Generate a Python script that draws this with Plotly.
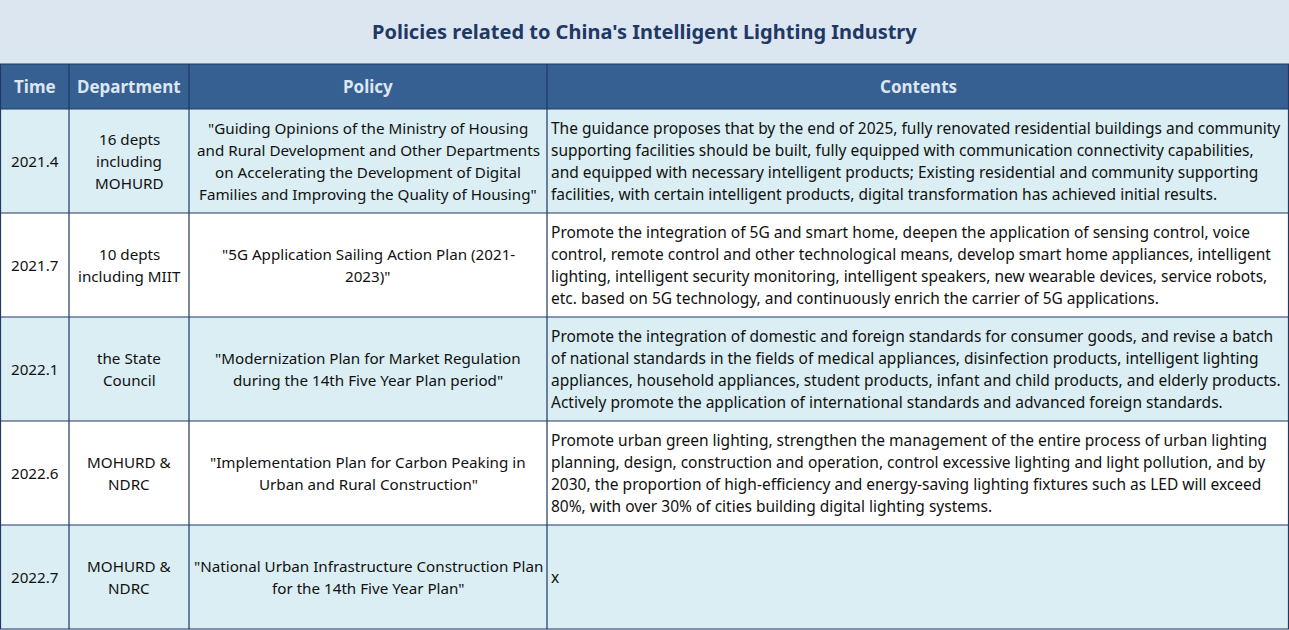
import plotly.graph_objects as go

title = "Policies related to China's Intelligent Lighting Industry"
headers = ["Time", "Department", "Policy", "Contents"]

times = ["2021.4", "2021.7", "2022.1", "2022.6", "2022.7"]
departments = [
    "16 depts<br>including<br>MOHURD",
    "10 depts<br>including MIIT",
    "the State<br>Council",
    "MOHURD &<br>NDRC",
    "MOHURD &<br>NDRC",
]
policies = [
    "\"Guiding Opinions of the Ministry of Housing<br>and Rural Development and Other Departments<br>on Accelerating the Development of Digital<br>Families and Improving the Quality of Housing\"",
    "\"5G Application Sailing Action Plan (2021-<br>2023)\"",
    "\"Modernization Plan for Market Regulation<br>during the 14th Five Year Plan period\"",
    "\"Implementation Plan for Carbon Peaking in<br>Urban and Rural Construction\"",
    "\"National Urban Infrastructure Construction Plan<br>for the 14th Five Year Plan\"",
]
contents = [
    "The guidance proposes that by the end of 2025, fully renovated residential buildings and community<br>supporting facilities should be built, fully equipped with communication connectivity capabilities,<br>and equipped with necessary intelligent products; Existing residential and community supporting<br>facilities, with certain intelligent products, digital transformation has achieved initial results.",
    "Promote the integration of 5G and smart home, deepen the application of sensing control, voice<br>control, remote control and other technological means, develop smart home appliances, intelligent<br>lighting, intelligent security monitoring, intelligent speakers, new wearable devices, service robots,<br>etc. based on 5G technology, and continuously enrich the carrier of 5G applications.",
    "Promote the integration of domestic and foreign standards for consumer goods, and revise a batch<br>of national standards in the fields of medical appliances, disinfection products, intelligent lighting<br>appliances, household appliances, student products, infant and child products, and elderly products.<br>Actively promote the application of international standards and advanced foreign standards.",
    "Promote urban green lighting, strengthen the management of the entire process of urban lighting<br>planning, design, construction and operation, control excessive lighting and light pollution, and by<br>2030, the proportion of high-efficiency and energy-saving lighting fixtures such as LED will exceed<br>80%, with over 30% of cities building digital lighting systems.",
    "x",
]

# ---- layout / style constants ----
W, H = 1289, 630
col_widths = [69, 120, 358, 742]
col_align = ["center", "center", "center", "left"]
col_font_size = [15.2, 15.2, 15.2, 15.5]
title_h, header_h, row_h = 64, 45, 104
line_gap = 22
row_colors = ["#DAEEF3", "#FFFFFF", "#DAEEF3", "#FFFFFF", "#DAEEF3"]
header_fill = "#366092"
border = "#1F3864"
font = "Noto Sans"
text_color = "#111111"

columns = [times, departments, policies, contents]
n_rows = len(times)

col_edges = [0]
for w in col_widths:
    col_edges.append(col_edges[-1] + w)
row_edges = [title_h, title_h + header_h]
for _ in range(n_rows):
    row_edges.append(row_edges[-1] + row_h)

fig = go.Figure()
shapes = []
annotations = []

# header background
shapes.append(dict(type="rect", xref="x", yref="y", x0=0, x1=W, y0=row_edges[0], y1=row_edges[1],
                   fillcolor=header_fill, line_width=0, layer="below"))
# row backgrounds
for r in range(n_rows):
    shapes.append(dict(type="rect", xref="x", yref="y", x0=0, x1=W, y0=row_edges[r + 1], y1=row_edges[r + 2],
                       fillcolor=row_colors[r], line_width=0, layer="below"))
# horizontal grid lines
for y in row_edges:
    yy = min(y, H - 0.5)
    shapes.append(dict(type="line", xref="x", yref="y", x0=0, x1=W, y0=yy, y1=yy,
                       line=dict(color=border, width=1.2)))
# vertical grid lines
for x in col_edges:
    xx = min(max(x, 0.5), W - 0.5)
    shapes.append(dict(type="line", xref="x", yref="y", x0=xx, x1=xx, y0=row_edges[0], y1=row_edges[-1],
                       line=dict(color=border, width=1.2)))

# header text
for c, h in enumerate(headers):
    annotations.append(dict(x=(col_edges[c] + col_edges[c + 1]) / 2, y=(row_edges[0] + row_edges[1]) / 2,
                            xref="x", yref="y", text=f"<b>{h}</b>", showarrow=False,
                            xanchor="center", yanchor="middle",
                            font=dict(family=font, size=17, color="#DCE6F1")))

# cell text, one annotation per line so the line spacing matches
for c, col in enumerate(columns):
    for r, val in enumerate(col):
        lines = val.split("<br>")
        yc = (row_edges[r + 1] + row_edges[r + 2]) / 2
        n = len(lines)
        for i, ln in enumerate(lines):
            y = yc + (i - (n - 1) / 2) * line_gap
            if col_align[c] == "left":
                x, xa = col_edges[c] + 2, "left"
            else:
                x, xa = (col_edges[c] + col_edges[c + 1]) / 2, "center"
            annotations.append(dict(x=x, y=y, xref="x", yref="y", text=ln, showarrow=False,
                                    xanchor=xa, yanchor="middle",
                                    font=dict(family=font, size=col_font_size[c], color=text_color)))

# title
annotations.append(dict(x=W / 2, y=title_h / 2 - 1, xref="x", yref="y", text=f"<b>{title}</b>",
                        showarrow=False, xanchor="center", yanchor="middle",
                        font=dict(family=font, size=20, color="#1F3864")))

fig.update_layout(
    width=W, height=H,
    margin=dict(l=0, r=0, t=0, b=0),
    paper_bgcolor="#DCE6F1",
    plot_bgcolor="#DCE6F1",
    xaxis=dict(range=[0, W], visible=False, fixedrange=True),
    yaxis=dict(range=[H, 0], visible=False, fixedrange=True),
    shapes=shapes,
    annotations=annotations,
    showlegend=False,
)

fig.write_html("out.html", post_script="document.body.style.margin='0';", config={"displayModeBar": False})
